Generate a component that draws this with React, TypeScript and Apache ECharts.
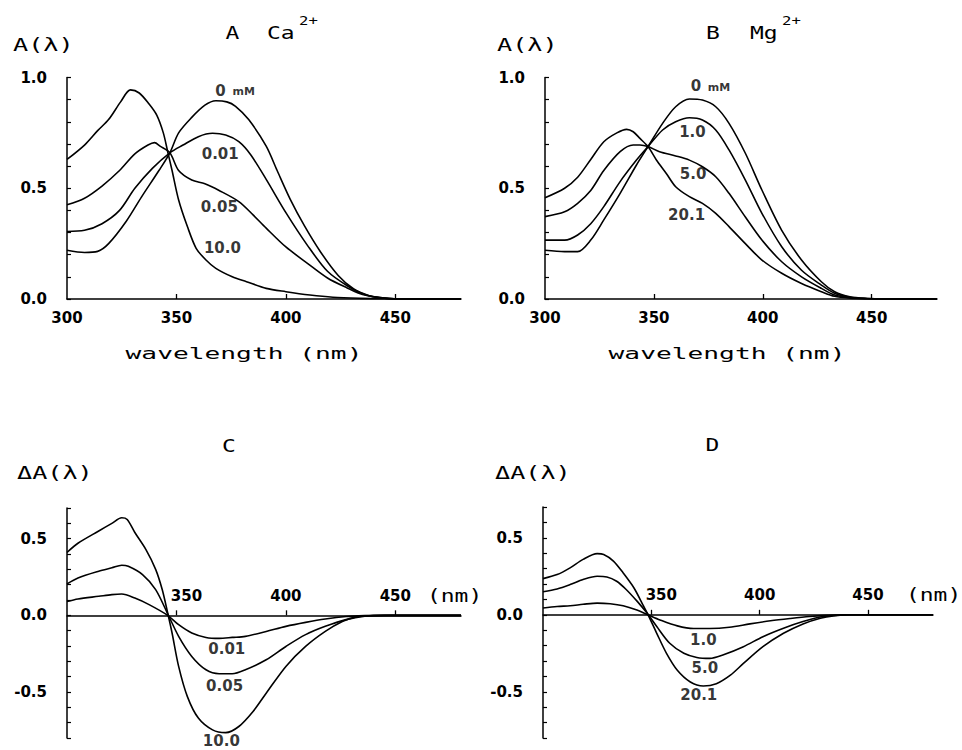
import React, { useEffect, useRef } from 'react';
import * as echarts from 'echarts';

// ---------- axis ticks ----------
const wavelengthLabels = [300, 350, 400, 450];
const wavelengthTicks = [350, 400, 450];
const diffWavelengthLabels = [350, 400, 450];
const absLabels = [0, 0.5, 1.0];
const absMinorTicks = [0, 0.1, 0.2, 0.3, 0.4, 0.5, 0.6, 0.7, 0.8, 0.9, 1.0];
const diffLabels = [-0.5, 0, 0.5];
const diffMinorTicks = [-0.8, -0.7, -0.6, -0.5, -0.4, -0.3, -0.2, -0.1, 0, 0.1, 0.2, 0.3, 0.4, 0.5, 0.6, 0.7];

// ---------- Panel A : Ca2+ absorbance ----------
const caNames = ['0 mM', '0.01', '0.05', '10.0'];
const caLabelAt = [[376.8, 0.94], [370, 0.655], [369.6, 0.417], [371, 0.229]];
const ca0 = [[300,0.22],[308,0.21],[314,0.215],[319,0.25],[327,0.35],[334,0.46],[342,0.58],[347,0.66],[351,0.75],[357,0.82],[363,0.875],[368,0.895],[373,0.89],[377,0.87],[383,0.81],[391,0.69],[396,0.58],[402,0.45],[408.5,0.33],[416,0.21],[424,0.105],[431,0.045],[438,0.015],[445,0.004],[455,0],[480,0]];
const ca001 = [[300,0.305],[308,0.31],[316,0.34],[324,0.40],[331,0.50],[339,0.59],[347,0.66],[353,0.695],[360,0.733],[366.5,0.748],[372.5,0.74],[378.5,0.71],[384,0.65],[391,0.54],[400,0.39],[410,0.24],[419,0.125],[428,0.06],[436,0.02],[445,0.004],[455,0],[480,0]];
const ca005 = [[300,0.425],[308,0.455],[316,0.51],[324,0.58],[331,0.655],[337,0.695],[340,0.706],[342.5,0.69],[347,0.66],[351,0.58],[357,0.537],[363,0.52],[369.5,0.49],[378.5,0.44],[385,0.38],[391,0.32],[400,0.235],[410,0.16],[419,0.095],[428,0.05],[435,0.02],[445,0.004],[455,0],[480,0]];
const ca10 = [[300,0.63],[308,0.695],[314,0.76],[319,0.81],[324.5,0.89],[329,0.944],[333,0.93],[337.5,0.88],[341,0.83],[344,0.75],[346,0.665],[348,0.58],[351,0.447],[355,0.327],[359,0.229],[363.5,0.176],[368,0.138],[375.5,0.10],[382,0.078],[391,0.048],[400,0.033],[411,0.018],[421.5,0.008],[434,0.003],[445,0.001],[480,0]];

// ---------- Panel B : Mg2+ absorbance ----------
const mgNames = ['0 mM', '1.0', '5.0', '20.1'];
const mgLabelAt = [[376, 0.96], [367.7, 0.755], [368, 0.564], [365, 0.379]];
const mg0 = [[300,0.22],[309,0.214],[315,0.214],[321,0.266],[327,0.357],[334.5,0.477],[342,0.605],[347.3,0.688],[354,0.793],[360,0.868],[366.3,0.903],[372.3,0.898],[378.4,0.868],[384.5,0.793],[392,0.658],[399.6,0.492],[408.7,0.31],[417.8,0.176],[426.9,0.078],[433,0.033],[440,0.01],[448,0.002],[455,0],[480,0]];
const mg1 = [[300,0.266],[309,0.266],[315,0.289],[321,0.34],[327,0.417],[334.5,0.53],[342,0.627],[347.3,0.688],[354,0.763],[360,0.80],[366.3,0.818],[372.3,0.808],[378.4,0.763],[384.5,0.673],[392,0.537],[399.6,0.387],[408.7,0.236],[417.8,0.13],[426.9,0.063],[433,0.026],[440,0.008],[448,0.002],[455,0],[480,0]];
const mg5 = [[300,0.372],[309,0.394],[315,0.432],[321,0.49],[327,0.58],[334.5,0.665],[340.5,0.695],[343.6,0.695],[347.3,0.688],[352.6,0.665],[360,0.646],[366.3,0.627],[372.3,0.597],[378.4,0.552],[384.5,0.477],[392,0.37],[399.6,0.266],[408.7,0.168],[417.8,0.10],[426.9,0.048],[433,0.018],[440,0.006],[448,0.001],[455,0],[480,0]];
const mg20 = [[300,0.457],[309,0.5],[315,0.55],[321,0.63],[327,0.71],[333,0.75],[337.5,0.766],[340.5,0.755],[343.6,0.725],[347.3,0.688],[351,0.63],[355.7,0.567],[360,0.507],[366.3,0.462],[372.3,0.432],[378.4,0.387],[384.5,0.327],[392,0.25],[399.6,0.176],[408.7,0.116],[417.8,0.07],[426.9,0.033],[433,0.012],[440,0.004],[448,0.001],[455,0],[480,0]];

// ---------- Panel C : Ca2+ difference spectra ----------
const caDiffNames = ['0.01', '0.05', '10.0'];
const caDiffLabelAt = [[373, -0.22], [372, -0.464], [370.5, -0.82]];
const caD001 = [[300,0.09],[305,0.107],[314.5,0.124],[320.5,0.135],[325,0.139],[331,0.113],[337.5,0.07],[346,0],[351,-0.061],[357,-0.115],[363.5,-0.144],[369.5,-0.15],[375.5,-0.144],[381.5,-0.137],[391,-0.105],[400,-0.072],[409,-0.046],[418,-0.024],[427.5,-0.008],[436,-0.002],[445,0],[480,0]];
const caD005 = [[300,0.205],[305,0.244],[314.5,0.288],[320.5,0.31],[325,0.327],[328,0.32],[334.5,0.266],[340.5,0.168],[346,0.01],[351,-0.137],[357,-0.268],[363.5,-0.355],[369.5,-0.381],[375.5,-0.381],[381.5,-0.355],[391,-0.29],[400,-0.203],[409,-0.126],[418,-0.072],[427.5,-0.028],[436,-0.006],[445,0],[480,0]];
const caD10 = [[300,0.41],[305,0.47],[314.5,0.55],[320.5,0.60],[325,0.636],[327.5,0.625],[331,0.54],[336,0.43],[340.5,0.30],[343.5,0.168],[346,0.015],[348,-0.115],[351,-0.333],[355,-0.53],[360,-0.67],[366.5,-0.747],[372.5,-0.765],[378.5,-0.725],[385,-0.627],[391,-0.508],[400,-0.333],[409,-0.203],[418,-0.105],[426,-0.039],[432,-0.01],[440,-0.002],[448,0],[480,0]];

// ---------- Panel D : Mg2+ difference spectra ----------
const mgDiffNames = ['1.0', '5.0', '20.1'];
const mgDiffLabelAt = [[374, -0.163], [374.7, -0.348], [371.9, -0.523]];
const mgD1 = [[300,0.044],[306.5,0.054],[312.5,0.059],[318.5,0.068],[325,0.076],[331,0.072],[337,0.059],[343,0.033],[348.5,0],[354,-0.033],[362,-0.072],[369.5,-0.089],[377,-0.089],[386,-0.081],[395.5,-0.059],[405,-0.039],[414,-0.024],[423,-0.011],[431,-0.004],[440,0],[480,0]];
const mgD5 = [[300,0.15],[306.5,0.168],[312.5,0.196],[318.5,0.229],[325,0.25],[329.5,0.246],[334,0.218],[338.5,0.163],[343.5,0.087],[348,0.011],[352.5,-0.076],[358.5,-0.185],[365,-0.25],[371,-0.277],[377,-0.283],[383,-0.261],[392.5,-0.207],[401.5,-0.142],[411,-0.087],[420,-0.044],[429,-0.011],[437,-0.002],[445,0],[480,0]];
const mgD20 = [[300,0.235],[306.5,0.261],[312.5,0.305],[318.5,0.36],[325,0.397],[328,0.392],[332.5,0.349],[337,0.272],[342,0.174],[346.5,0.054],[348.5,0],[352.5,-0.12],[357,-0.25],[362,-0.36],[368,-0.436],[374,-0.462],[380,-0.447],[386.5,-0.392],[392.5,-0.316],[401.5,-0.207],[411,-0.12],[420,-0.059],[428,-0.022],[434,-0.007],[442,0],[480,0]];

const TICK_FONT = 'DejaVu Sans';
const HERSHEY = 'DejaVu Sans Mono';

function fmt1(v: number) {
  return (Math.abs(v) < 1e-9 ? 0 : v).toFixed(1);
}

function lineSeries(data: number[][], idx: number) {
  return {
    type: 'line',
    xAxisIndex: idx,
    yAxisIndex: idx,
    data,
    smooth: 0.3,
    showSymbol: false,
    symbol: 'none',
    silent: true,
    lineStyle: { color: '#000', width: 1.6 },
    z: 3,
  };
}

function labelSeries(names: string[], at: number[][], idx: number) {
  return {
    type: 'scatter',
    xAxisIndex: idx,
    yAxisIndex: idx,
    symbolSize: 0,
    clip: false,
    silent: true,
    data: names.map((n, k) => ({ name: n, value: at[k] })),
    label: {
      show: true,
      position: 'inside',
      formatter: (p: any) => (p.name === '0 mM' ? '{a|0}  {b|mM}' : '{a|' + p.name + '}'),
      rich: {
        a: { fontFamily: TICK_FONT, fontWeight: 'bold', fontSize: 15, color: '#000' },
        b: { fontFamily: TICK_FONT, fontWeight: 'bold', fontSize: 11, color: '#000', padding: [2, 0, 0, 0] },
      },
    },
    z: 4,
  };
}

const labelStyle = {
  color: '#000',
  fontFamily: TICK_FONT,
  fontWeight: 'bold',
  fontSize: 15,
};

function xAxisAbs(idx: number) {
  return {
    type: 'value',
    gridIndex: idx,
    min: 300,
    max: 480,
    axisLine: { onZero: false, lineStyle: { color: '#000', width: 1.5 } },
    axisTick: { inside: true, length: 5, customValues: wavelengthTicks, lineStyle: { color: '#000', width: 1.3 } },
    axisLabel: {
      ...labelStyle,
      customValues: wavelengthLabels,
      margin: 11,
      formatter: (v: number) => String(Math.round(v)),
    },
    splitLine: { show: false },
  };
}

// hidden scale axis for the difference panels (curves are drawn on it)
function xAxisDiffHidden(idx: number) {
  return {
    type: 'value',
    gridIndex: idx,
    min: 300,
    max: 480,
    show: false,
    splitLine: { show: false },
  };
}

// visible wavelength axis of the difference panels, lying on ΔA = 0
function xAxisDiffZero(idx: number) {
  return {
    type: 'value',
    gridIndex: idx,
    min: 300,
    max: 480,
    axisLine: { onZero: false, lineStyle: { color: '#000', width: 1.5 } },
    axisTick: { inside: true, length: 5, customValues: wavelengthTicks, lineStyle: { color: '#000', width: 1.3 } },
    axisLabel: {
      ...labelStyle,
      inside: true,
      customValues: diffWavelengthLabels,
      margin: 12,
      formatter: (v: number) => (Math.round(v) === 350 ? '{r|350}' : '{n|' + Math.round(v) + '}'),
      rich: {
        r: { ...labelStyle, padding: [0, 0, 0, 20] },
        n: { ...labelStyle },
      },
    },
    splitLine: { show: false },
  };
}

function yAxis(idx: number, min: number, max: number, labels: number[], ticks: number[]) {
  return {
    type: 'value',
    gridIndex: idx,
    min,
    max,
    axisLine: { show: true, onZero: false, lineStyle: { color: '#000', width: 1.5 } },
    axisTick: { show: true, inside: true, length: 4, customValues: ticks, lineStyle: { color: '#000', width: 1.2 } },
    axisLabel: {
      ...labelStyle,
      customValues: labels,
      margin: 20,
      formatter: (v: number) => fmt1(v),
    },
    splitLine: { show: false },
  };
}

function yAxisHidden(idx: number) {
  return { type: 'value', gridIndex: idx, min: 0, max: 1, show: false, splitLine: { show: false } };
}

function hText(text: string, x: number, y: number, size: number, sx: number, align: string) {
  return {
    type: 'text',
    x,
    y,
    scaleX: sx,
    silent: true,
    style: {
      text,
      fontFamily: HERSHEY,
      fontSize: size,
      fill: '#000',
      align,
      verticalAlign: 'middle',
    },
  };
}

export default function App() {
  const ref = useRef<HTMLDivElement>(null);
  useEffect(() => {
    if (!ref.current) return;
    const chart = echarts.init(ref.current, undefined, { renderer: 'svg' });
    const option: any = {
      animation: false,
      backgroundColor: '#fff',
      grid: [
        { left: 67, top: 77.5, width: 394, height: 221.5 },
        { left: 545, top: 77.5, width: 392, height: 221.5 },
        { left: 67, top: 508, width: 394, height: 230 },
        { left: 543, top: 507, width: 390, height: 231 },
        // upper halves of C and D, whose bottom edge is ΔA = 0
        { left: 67, top: 508, width: 394, height: 230 * 0.7 / 1.5 },
        { left: 543, top: 507, width: 390, height: 231 * 0.7 / 1.5 },
      ],
      xAxis: [
        xAxisAbs(0), xAxisAbs(1),
        xAxisDiffHidden(2), xAxisDiffHidden(3),
        xAxisDiffZero(4), xAxisDiffZero(5),
      ],
      yAxis: [
        yAxis(0, 0, 1, absLabels, absMinorTicks),
        yAxis(1, 0, 1, absLabels, absMinorTicks),
        yAxis(2, -0.8, 0.7, diffLabels, diffMinorTicks),
        yAxis(3, -0.8, 0.7, diffLabels, diffMinorTicks),
        yAxisHidden(4),
        yAxisHidden(5),
      ],
      series: [
        lineSeries(ca0, 0), lineSeries(ca001, 0), lineSeries(ca005, 0), lineSeries(ca10, 0),
        labelSeries(caNames, caLabelAt, 0),
        lineSeries(mg0, 1), lineSeries(mg1, 1), lineSeries(mg5, 1), lineSeries(mg20, 1),
        labelSeries(mgNames, mgLabelAt, 1),
        lineSeries(caD001, 2), lineSeries(caD005, 2), lineSeries(caD10, 2),
        labelSeries(caDiffNames, caDiffLabelAt, 2),
        lineSeries(mgD1, 3), lineSeries(mgD5, 3), lineSeries(mgD20, 3),
        labelSeries(mgDiffNames, mgDiffLabelAt, 3),
      ],
      graphic: [
        hText('A', 232.5, 33, 17, 1.35, 'center'),
        hText('Ca', 267, 33, 17, 1.35, 'left'),
        hText('2+', 299, 21, 12, 1.3, 'left'),
        hText('B', 713, 33, 17, 1.35, 'center'),
        hText('Mg', 750, 33, 17, 1.35, 'left'),
        hText('2+', 782, 21, 12, 1.3, 'left'),
        hText('C', 229, 446.5, 17, 1.35, 'center'),
        hText('D', 712.5, 445.5, 17, 1.35, 'center'),
        hText('A(λ)', 13, 45, 18, 1.4, 'left'),
        hText('A(λ)', 497, 45, 18, 1.4, 'left'),
        hText('ΔA(λ)', 17, 472.5, 18, 1.4, 'left'),
        hText('ΔA(λ)', 495, 472.5, 18, 1.4, 'left'),
        hText('wavelength (nm)', 244, 354, 15, 1.75, 'center'),
        hText('wavelength (nm)', 727, 354, 15, 1.75, 'center'),
        hText('(nm)', 427, 596, 17, 1.35, 'left'),
        hText('(nm)', 906, 595, 17, 1.35, 'left'),
      ],
    };
    chart.setOption(option);
    return () => chart.dispose();
  }, []);
  return (
    <div
      ref={ref}
      style={{ position: 'absolute', left: 0, top: 0, width: 962, height: 750, background: '#fff' }}
    />
  );
}
